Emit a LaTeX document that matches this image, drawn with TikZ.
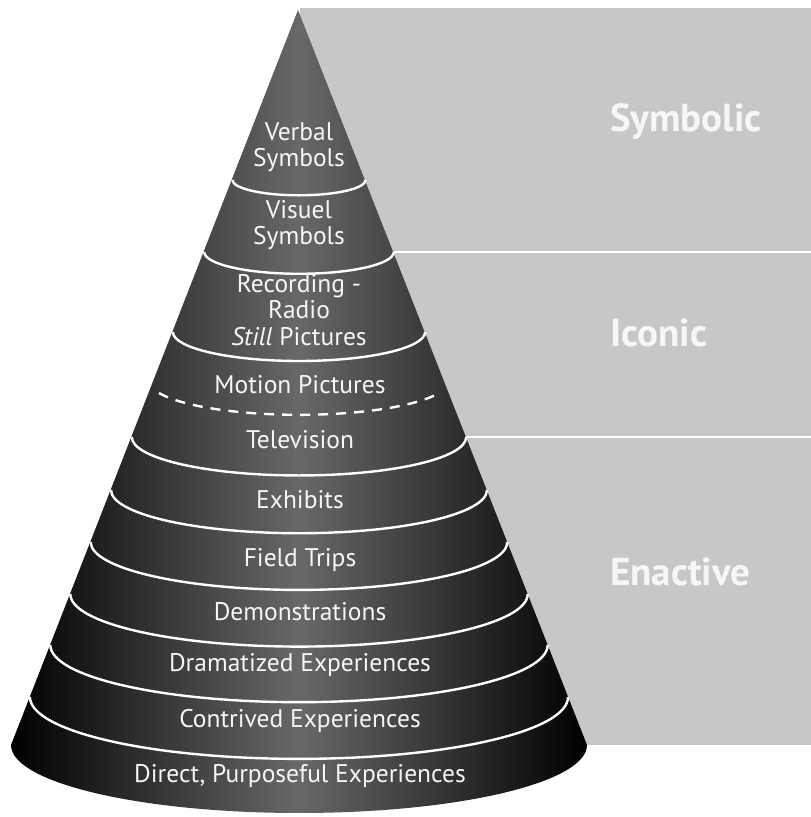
\documentclass[tikz,border=0pt]{standalone}
\usepackage{fontspec}
\setmainfont{PT Sans}
\usetikzlibrary{positioning,backgrounds}
\definecolor{panelgray}{RGB}{200,199,200}
\definecolor{conemid}{RGB}{104,104,106}
\definecolor{labelwhite}{RGB}{246,246,246}

\begin{document}
\begin{tikzpicture}[x=1pt,y=1pt,
  ring/.style={draw=white,line width=2.4pt},
  level/.style={text=labelwhite,align=center,font=\fontsize{25.5}{26.5}\selectfont,inner sep=0pt},
  mode/.style={text=labelwhite,anchor=west,font=\fontsize{39}{44}\selectfont\bfseries,inner sep=0pt}]
\useasboundingbox (0,0) rectangle (811,817);

% grey panel behind the cone, with its two dividers
\fill[panelgray] (300,72) rectangle (811,809);
\draw[white,line width=2.6pt] (394,565) -- (811,565);
\draw[white,line width=2.6pt] (466,380) -- (811,380);

\node[mode] (symbolic) at (610,695) {Symbolic};
\node[mode] (iconic)   at (610,484) {Iconic};
\node[mode] (enactive) at (610,245) {Enactive};

% the cone
\shade[left color=black,right color=black,middle color=conemid]
  (298,807) -- (587,72) arc[start angle=0,end angle=-180,x radius=288pt,y radius=68pt] -- cycle;

\foreach \yy in {180,252,332,437,490,542,594,645,697}{
  \pgfmathsetmacro\ww{0.3916*(\yy-10)}
  \pgfmathsetmacro\hh{0.23*\ww}
  \draw[ring] (299-\ww,817-\yy) arc[start angle=180,end angle=360,x radius=\ww pt,y radius=\hh pt];
}
\draw[ring,dash pattern=on 10pt off 8pt]
  (159,424) arc[start angle=201,end angle=339,x radius=150pt,y radius=34pt];

\begin{scope}[every node/.style=level]
\node (verbal)    at (299,670) {Verbal\\Symbols};
\node (visual)    at (299,592) {Visuel\\Symbols};
\node (recording) at (299,507) {Recording -\\Radio\\\textit{Still} Pictures};
\node (motion)    at (300,432) {Motion Pictures};
\node (tv)        at (300,377) {Television};
\node (exhibits)  at (300,317) {Exhibits};
\node (trips)     at (300,257) {Field Trips};
\node (demos)     at (300,205) {Demonstrations};
\node (drama)     at (300,152) {Dramatized Experiences};
\node (contrived) at (300,96)  {Contrived Experiences};
\node (direct)    at (300,41)  {Direct, Purposeful Experiences};
\end{scope}
\end{tikzpicture}
\end{document}
